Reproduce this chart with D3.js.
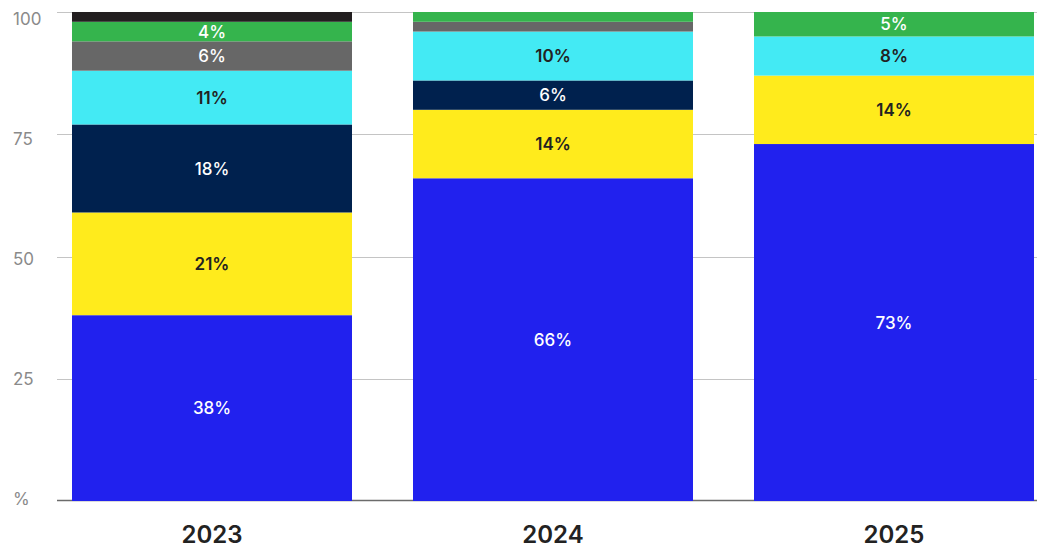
<!DOCTYPE html>
<html>
<head>
<meta charset="utf-8">
<script src="https://cdn.jsdelivr.net/npm/d3@7"></script>
<style>
  html, body { margin: 0; padding: 0; background: #fff; }
  svg { display: block; font-family: Inter, "Liberation Sans", Arial, sans-serif; }
</style>
</head>
<body>
<svg id="chart" width="1037" height="550"></svg>
<script>
// Categories and stacked shares (percent), bottom segment first
const years = ["2023", "2024", "2025"];
const seriesKeys = ["s1", "s2", "s3", "s4", "s5", "s6", "s7"];
const s1 = [38, 66, 73];
const s2 = [21, 14, 14];
const s3 = [18, 6, 0];
const s4 = [11, 10, 8];
const s5 = [6, 2, 0];
const s6 = [4, 2, 5];
const s7 = [2, 0, 0];
const yTicks = [0, 25, 50, 75, 100];
const yTickLabels = ["%", "25", "50", "75", "100"];

const seriesValues = [s1, s2, s3, s4, s5, s6, s7];
const colors = ["#2121ee", "#ffeb1c", "#00214e", "#43eaf4", "#676767", "#35b44d", "#231f20"];
const labelColors = ["#ffffff", "#222222", "#ffffff", "#222222", "#ffffff", "#ffffff", "#ffffff"];
const labelWeights = [500, 600, 500, 600, 500, 500, 500];

const rows = years.map((yr, i) => {
  const r = { year: yr };
  seriesKeys.forEach((k, j) => { r[k] = seriesValues[j][i]; });
  return r;
});
const stacked = d3.stack().keys(seriesKeys)(rows);

const svg = d3.select("#chart");

const x = d3.scaleBand().domain(years).range([72, 1034]).paddingInner(61 / 341).paddingOuter(0);
const y = d3.scaleLinear().domain([0, 100]).range([501, 12]);
// tick text sits on its own slightly tighter spacing
const yText = d3.scaleLinear().domain([0, 100]).range([504.5, 24.5]);

// gridlines
svg.append("g").selectAll("line")
  .data(yTicks.filter(t => t > 0))
  .join("line")
  .attr("x1", 57).attr("x2", 1037)
  .attr("y1", d => Math.round(y(d)) + 0.5)
  .attr("y2", d => Math.round(y(d)) + 0.5)
  .attr("stroke", "#c4c4c4")
  .attr("stroke-width", 1);

// baseline
svg.append("line")
  .attr("x1", 57).attr("x2", 1037)
  .attr("y1", y(0) - 0.5).attr("y2", y(0) - 0.5)
  .attr("stroke", "#6b6b6b")
  .attr("stroke-width", 1.6);

// y tick labels
svg.append("g").selectAll("text")
  .data(yTicks)
  .join("text")
  .attr("x", 13)
  .attr("y", d => yText(d))
  .attr("fill", "#8a8a8a")
  .attr("font-size", 17)
  .attr("font-weight", 400)
  .text((d, i) => yTickLabels[i]);

// stacked bars
const layers = svg.append("g").selectAll("g")
  .data(stacked)
  .join("g")
  .attr("fill", (d, i) => colors[i]);

layers.selectAll("rect")
  .data(d => d.map(p => ({ p, year: p.data.year })))
  .join("rect")
  .attr("x", d => x(d.year))
  .attr("width", x.bandwidth())
  .attr("y", d => y(d.p[1]))
  .attr("height", d => Math.max(0, y(d.p[0]) - y(d.p[1])));

// segment value labels
stacked.forEach((layer, i) => {
  svg.append("g").selectAll("text")
    .data(layer.filter(p => (p[1] - p[0]) >= 4))
    .join("text")
    .attr("x", p => x(p.data.year) + x.bandwidth() / 2)
    .attr("y", p => (y(p[0]) + y(p[1])) / 2)
    .attr("dy", "0.36em")
    .attr("text-anchor", "middle")
    .attr("font-size", 17)
    .attr("font-weight", labelWeights[i])
    .attr("fill", labelColors[i])
    .text(p => `${p[1] - p[0]}%`);
});

// category labels
svg.append("g").selectAll("text")
  .data(years)
  .join("text")
  .attr("x", d => x(d) + x.bandwidth() / 2)
  .attr("y", 543)
  .attr("text-anchor", "middle")
  .attr("font-size", 24)
  .attr("font-weight", 600)
  .attr("fill", "#222222")
  .text(d => d);
</script>
</body>
</html>
